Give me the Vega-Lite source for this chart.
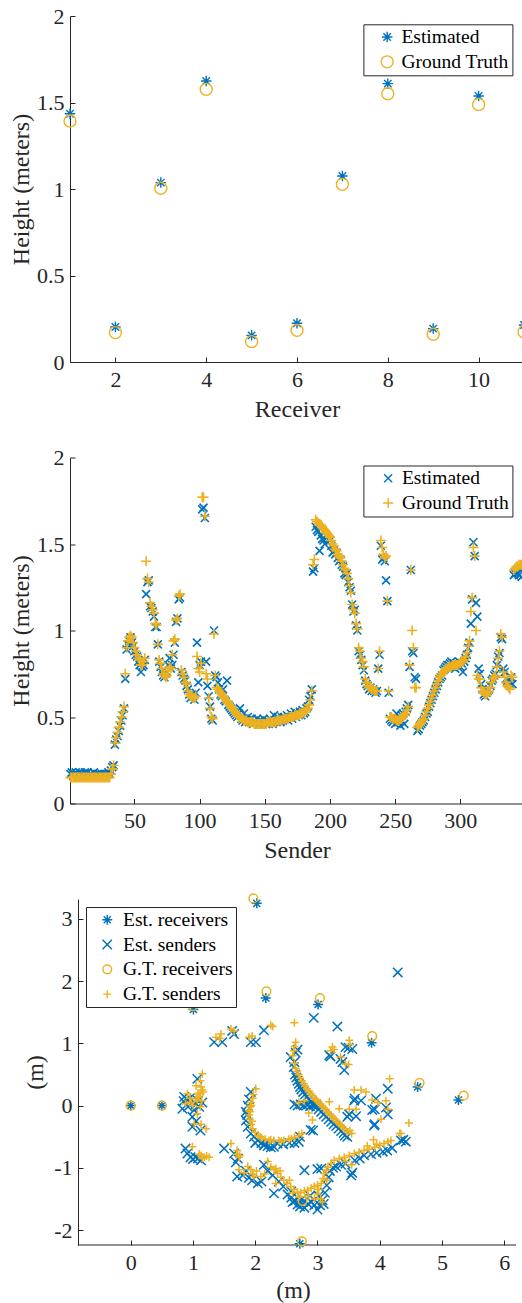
{
"$schema":"https://vega.github.io/schema/vega-lite/v6.json",
"padding":{"left":9,"top":5,"right":0,"bottom":0},
"bounds":"flush",
"spacing":95.5,
"resolve":{"scale":{"color":"independent","shape":"independent","size":"independent"},"legend":{"color":"independent","shape":"independent","size":"independent"}},
"config":{
 "view":{"stroke":null},
 "font":"Liberation Serif",
 "style":{"guide-label":{"font":"Liberation Serif"},"guide-title":{"font":"Liberation Serif"}},
 "axis":{"grid":false,"domainColor":"#262626","tickColor":"#262626","labelColor":"#262626","titleColor":"#262626","labelFont":"Liberation Serif","titleFont":"Liberation Serif","labelFontSize":22,"titleFontSize":24,"titleFontWeight":"normal","tickSize":-5,"domainWidth":1,"tickWidth":1,"labelExpr":"'' + datum.value"},
 "axisX":{"labelPadding":12,"titleBaseline":"alphabetic","titleY":54,"labelFont":"Liberation Serif"},
 "axisY":{"labelPadding":11,"titleBaseline":"alphabetic","titleX":-41.6,"titleAngle":-90,"labelFont":"Liberation Serif"},
 "legend":{"orient":"none","title":null,"strokeColor":"#262626","fillColor":"white","padding":3,"rowPadding":3.8,"labelFont":"Liberation Serif","labelFontSize":19.5,"labelColor":"#000","symbolStrokeWidth":1.4}
},
"vconcat":[
{
 "width":454,"height":346,
 "data":{"values":[
  {"r":1,"e":1.435,"g":1.393},{"r":2,"e":0.202,"g":0.170},{"r":3,"e":1.037,"g":1.004},{"r":4,"e":1.624,"g":1.576},{"r":5,"e":0.154,"g":0.118},{"r":6,"e":0.224,"g":0.183},{"r":7,"e":1.075,"g":1.027},{"r":8,"e":1.609,"g":1.551},{"r":9,"e":0.193,"g":0.160},{"r":10,"e":1.538,"g":1.489},{"r":11,"e":0.214,"g":0.175}
 ]},
 "transform":[{"fold":["e","g"],"as":["k","h"]}],
 "mark":{"type":"point","filled":false,"strokeWidth":1.4,"opacity":1},
 "encoding":{
  "x":{"field":"r","type":"quantitative","scale":{"domain":[1,11],"nice":false,"zero":false},"axis":{"values":[2,4,6,8,10],"title":"Receiver","labelFont":"Liberation Serif"}},
  "y":{"field":"h","type":"quantitative","scale":{"domain":[0,2],"nice":false},"axis":{"values":[0,0.5,1,1.5,2],"title":"Height (meters)","labelFont":"Liberation Serif"}},
  "color":{"field":"k","type":"nominal","scale":{"domain":["e","g"],"range":["#0072BD","#EDB120"]},"legend":{"legendX":293.4,"legendY":8.3,"symbolOffset":11,"labelOffset":4.5,"labelExpr":"datum.label == 'e' ? 'Estimated' : 'Ground Truth'"}},
  "shape":{"field":"k","type":"nominal","scale":{"domain":["e","g"],"range":["M-1,0L1,0M0,-1L0,1M-0.71,-0.71L0.71,0.71M-0.71,0.71L0.71,-0.71","circle"]}},
  "size":{"field":"k","type":"nominal","scale":{"domain":["e","g"],"range":[110,144]}},
  "order":{"field":"k"}
 }
},
{
 "width":454,"height":346,
 "data":{"values":[
{"s":1,"e":0.17,"g":0.15},{"s":2,"e":0.18,"g":0.15},{"s":3,"e":0.16,"g":0.15},{"s":4,"e":0.17,"g":0.15},{"s":5,"e":0.18,"g":0.15},{"s":6,"e":0.17,"g":0.15},{"s":7,"e":0.16,"g":0.15},{"s":8,"e":0.18,"g":0.15},{"s":9,"e":0.17,"g":0.15},{"s":10,"e":0.17,"g":0.15},
{"s":11,"e":0.16,"g":0.15},{"s":12,"e":0.18,"g":0.15},{"s":13,"e":0.17,"g":0.15},{"s":14,"e":0.18,"g":0.15},{"s":15,"e":0.16,"g":0.15},{"s":16,"e":0.17,"g":0.15},{"s":17,"e":0.17,"g":0.15},{"s":18,"e":0.16,"g":0.15},{"s":19,"e":0.18,"g":0.15},{"s":20,"e":0.17,"g":0.15},
{"s":21,"e":0.16,"g":0.15},{"s":22,"e":0.17,"g":0.15},{"s":23,"e":0.17,"g":0.15},{"s":24,"e":0.16,"g":0.15},{"s":25,"e":0.17,"g":0.15},{"s":26,"e":0.16,"g":0.15},{"s":27,"e":0.17,"g":0.15},{"s":28,"e":0.16,"g":0.15},{"s":29,"e":0.17,"g":0.15},{"s":30,"e":0.18,"g":0.15},
{"s":31,"e":0.17,"g":0.15},{"s":32,"e":0.19,"g":0.17},{"s":33,"e":0.21,"g":0.20},{"s":34,"e":0.22,"g":0.22},{"s":35,"e":0.34,"g":0.35},{"s":36,"e":0.37,"g":0.38},{"s":37,"e":0.39,"g":0.41},{"s":38,"e":0.42,"g":0.44},{"s":39,"e":0.45,"g":0.47},{"s":40,"e":0.48,"g":0.50},
{"s":41,"e":0.51,"g":0.53},{"s":42,"e":0.55,"g":0.56},{"s":43,"e":0.72,"g":0.75},{"s":44,"e":0.89,"g":0.90},{"s":45,"e":0.92,"g":0.94},{"s":46,"e":0.94,"g":0.96},{"s":47,"e":0.96,"g":0.97},{"s":48,"e":0.93,"g":0.96},{"s":49,"e":0.91,"g":0.93},{"s":50,"e":0.88,"g":0.90},
{"s":51,"e":0.86,"g":0.88},{"s":52,"e":0.85,"g":0.86},{"s":53,"e":0.82,"g":0.84},{"s":54,"e":0.80,"g":0.83},{"s":55,"e":0.76,"g":0.80},{"s":56,"e":0.79,"g":0.80},{"s":57,"e":0.80,"g":0.82},{"s":58,"e":0.83,"g":0.84},{"s":59,"e":1.21,"g":1.40},{"s":60,"e":1.28,"g":1.30},
{"s":61,"e":1.29,"g":1.28},{"s":62,"e":1.14,"g":1.16},{"s":63,"e":1.13,"g":1.14},{"s":64,"e":1.11,"g":1.12},{"s":65,"e":1.08,"g":1.10},{"s":66,"e":1.02,"g":1.04},{"s":67,"e":1.02,"g":1.03},{"s":68,"e":0.92,"g":0.92},{"s":69,"e":0.82,"g":0.83},{"s":70,"e":0.79,"g":0.81},
{"s":71,"e":0.76,"g":0.78},{"s":72,"e":0.74,"g":0.75},{"s":73,"e":0.73,"g":0.74},{"s":74,"e":0.75,"g":0.73},{"s":75,"e":0.76,"g":0.74},{"s":76,"e":0.80,"g":0.77},{"s":77,"e":0.84,"g":0.79},{"s":78,"e":0.78,"g":0.78},{"s":79,"e":0.80,"g":0.86},{"s":80,"e":0.86,"g":0.94},
{"s":81,"e":0.93,"g":0.95},{"s":82,"e":1.05,"g":1.06},{"s":83,"e":1.07,"g":1.07},{"s":84,"e":1.18,"g":1.20},{"s":85,"e":1.19,"g":1.21},{"s":86,"e":0.76,"g":0.77},{"s":87,"e":0.74,"g":0.75},{"s":88,"e":0.72,"g":0.73},{"s":89,"e":0.71,"g":0.70},{"s":90,"e":0.68,"g":0.69},
{"s":91,"e":0.66,"g":0.65},{"s":92,"e":0.63,"g":0.63},{"s":93,"e":0.61,"g":0.62},{"s":94,"e":0.63,"g":0.62},{"s":95,"e":0.62,"g":0.61},{"s":96,"e":0.60,"g":0.61},{"s":97,"e":0.64,"g":0.62},{"s":98,"e":0.93,"g":0.85},{"s":99,"e":0.70,"g":0.78},{"s":100,"e":0.80,"g":0.76},
{"s":101,"e":0.82,"g":0.81},{"s":102,"e":1.70,"g":1.77},{"s":103,"e":1.71,"g":1.77},{"s":104,"e":1.65,"g":1.66},{"s":105,"e":0.82,"g":0.75},{"s":106,"e":0.68,"g":0.72},{"s":107,"e":0.62,"g":0.61},{"s":108,"e":0.56,"g":0.55},{"s":109,"e":0.49,"g":0.50},{"s":110,"e":0.48,"g":0.49},
{"s":111,"e":1.00,"g":0.98},{"s":112,"e":0.74,"g":0.74},{"s":113,"e":0.73,"g":0.67},{"s":114,"e":0.70,"g":0.66},{"s":115,"e":0.66,"g":0.65},{"s":116,"e":0.63,"g":0.64},{"s":117,"e":0.62,"g":0.63},{"s":118,"e":0.66,"g":0.62},{"s":119,"e":0.60,"g":0.61},{"s":120,"e":0.59,"g":0.60},
{"s":121,"e":0.71,"g":0.59},{"s":122,"e":0.57,"g":0.58},{"s":123,"e":0.56,"g":0.57},{"s":124,"e":0.55,"g":0.56},{"s":125,"e":0.54,"g":0.55},{"s":126,"e":0.53,"g":0.54},{"s":127,"e":0.52,"g":0.53},{"s":128,"e":0.51,"g":0.52},{"s":129,"e":0.50,"g":0.51},{"s":130,"e":0.52,"g":0.50},
{"s":131,"e":0.55,"g":0.50},{"s":132,"e":0.49,"g":0.49},{"s":133,"e":0.48,"g":0.49},{"s":134,"e":0.52,"g":0.48},{"s":135,"e":0.47,"g":0.48},{"s":136,"e":0.48,"g":0.48},{"s":137,"e":0.50,"g":0.47},{"s":138,"e":0.47,"g":0.47},{"s":139,"e":0.49,"g":0.47},{"s":140,"e":0.49,"g":0.47},
{"s":141,"e":0.46,"g":0.47},{"s":142,"e":0.48,"g":0.46},{"s":143,"e":0.47,"g":0.46},{"s":144,"e":0.49,"g":0.46},{"s":145,"e":0.46,"g":0.46},{"s":146,"e":0.48,"g":0.46},{"s":147,"e":0.47,"g":0.46},{"s":148,"e":0.46,"g":0.46},{"s":149,"e":0.49,"g":0.46},{"s":150,"e":0.47,"g":0.46},
{"s":151,"e":0.46,"g":0.46},{"s":152,"e":0.48,"g":0.47},{"s":153,"e":0.46,"g":0.47},{"s":154,"e":0.49,"g":0.47},{"s":155,"e":0.47,"g":0.47},{"s":156,"e":0.46,"g":0.47},{"s":157,"e":0.51,"g":0.47},{"s":158,"e":0.48,"g":0.47},{"s":159,"e":0.47,"g":0.48},{"s":160,"e":0.50,"g":0.48},
{"s":161,"e":0.49,"g":0.48},{"s":162,"e":0.47,"g":0.48},{"s":163,"e":0.50,"g":0.48},{"s":164,"e":0.48,"g":0.49},{"s":165,"e":0.50,"g":0.49},{"s":166,"e":0.49,"g":0.49},{"s":167,"e":0.51,"g":0.49},{"s":168,"e":0.48,"g":0.49},{"s":169,"e":0.50,"g":0.50},{"s":170,"e":0.52,"g":0.50},
{"s":171,"e":0.49,"g":0.50},{"s":172,"e":0.51,"g":0.50},{"s":173,"e":0.53,"g":0.51},{"s":174,"e":0.50,"g":0.51},{"s":175,"e":0.52,"g":0.51},{"s":176,"e":0.51,"g":0.51},{"s":177,"e":0.53,"g":0.52},{"s":178,"e":0.51,"g":0.52},{"s":179,"e":0.54,"g":0.52},{"s":180,"e":0.52,"g":0.53},
{"s":181,"e":0.53,"g":0.53},{"s":182,"e":0.55,"g":0.54},{"s":183,"e":0.56,"g":0.55},{"s":184,"e":0.60,"g":0.57},{"s":185,"e":0.62,"g":0.60},{"s":186,"e":0.66,"g":0.65},{"s":187,"e":1.34,"g":1.38},{"s":188,"e":1.36,"g":1.41},{"s":189,"e":1.60,"g":1.64},{"s":190,"e":1.58,"g":1.63},
{"s":191,"e":1.57,"g":1.62},{"s":192,"e":1.46,"g":1.61},{"s":193,"e":1.55,"g":1.61},{"s":194,"e":1.53,"g":1.60},{"s":195,"e":1.52,"g":1.59},{"s":196,"e":1.50,"g":1.58},{"s":197,"e":1.55,"g":1.57},{"s":198,"e":1.54,"g":1.56},{"s":199,"e":1.53,"g":1.55},{"s":200,"e":1.52,"g":1.54},
{"s":201,"e":1.49,"g":1.52},{"s":202,"e":1.45,"g":1.50},{"s":203,"e":1.46,"g":1.49},{"s":204,"e":1.44,"g":1.47},{"s":205,"e":1.45,"g":1.46},{"s":206,"e":1.42,"g":1.44},{"s":207,"e":1.40,"g":1.43},{"s":208,"e":1.41,"g":1.42},{"s":209,"e":1.38,"g":1.40},{"s":210,"e":1.37,"g":1.38},
{"s":211,"e":1.33,"g":1.36},{"s":212,"e":1.32,"g":1.35},{"s":213,"e":1.33,"g":1.33},{"s":214,"e":1.28,"g":1.30},{"s":215,"e":1.25,"g":1.26},{"s":216,"e":1.23,"g":1.22},{"s":217,"e":1.15,"g":1.15},{"s":218,"e":1.11,"g":1.12},{"s":219,"e":1.12,"g":1.10},{"s":220,"e":1.03,"g":1.04},
{"s":221,"e":1.00,"g":1.01},{"s":222,"e":0.88,"g":0.90},{"s":223,"e":0.86,"g":0.88},{"s":224,"e":0.83,"g":0.84},{"s":225,"e":0.80,"g":0.82},{"s":226,"e":0.77,"g":0.79},{"s":227,"e":0.71,"g":0.72},{"s":228,"e":0.69,"g":0.70},{"s":229,"e":0.68,"g":0.68},{"s":230,"e":0.66,"g":0.67},
{"s":231,"e":0.67,"g":0.67},{"s":232,"e":0.65,"g":0.66},{"s":233,"e":0.66,"g":0.66},{"s":234,"e":0.65,"g":0.65},{"s":235,"e":0.64,"g":0.65},{"s":236,"e":0.65,"g":0.65},{"s":237,"e":0.78,"g":0.78},{"s":238,"e":0.86,"g":0.88},{"s":239,"e":1.49,"g":1.52},{"s":240,"e":1.41,"g":1.48},
{"s":241,"e":1.42,"g":1.44},{"s":242,"e":1.40,"g":1.42},{"s":243,"e":1.29,"g":1.43},{"s":244,"e":1.17,"g":1.17},{"s":245,"e":0.64,"g":0.65},{"s":246,"e":0.49,"g":0.50},{"s":247,"e":0.48,"g":0.50},{"s":248,"e":0.47,"g":0.49},{"s":249,"e":0.50,"g":0.49},{"s":250,"e":0.46,"g":0.49},
{"s":251,"e":0.52,"g":0.48},{"s":252,"e":0.47,"g":0.48},{"s":253,"e":0.50,"g":0.48},{"s":254,"e":0.45,"g":0.49},{"s":255,"e":0.51,"g":0.49},{"s":256,"e":0.52,"g":0.50},{"s":257,"e":0.46,"g":0.51},{"s":258,"e":0.53,"g":0.52},{"s":259,"e":0.55,"g":0.54},{"s":260,"e":0.57,"g":0.56},
{"s":261,"e":0.79,"g":0.80},{"s":262,"e":1.35,"g":1.35},{"s":263,"e":0.88,"g":1.00},{"s":264,"e":0.87,"g":0.90},{"s":265,"e":0.73,"g":0.67},{"s":266,"e":0.72,"g":0.67},{"s":267,"e":0.42,"g":0.44},{"s":268,"e":0.43,"g":0.45},{"s":269,"e":0.45,"g":0.46},{"s":270,"e":0.46,"g":0.47},
{"s":271,"e":0.47,"g":0.48},{"s":272,"e":0.48,"g":0.49},{"s":273,"e":0.50,"g":0.51},{"s":274,"e":0.52,"g":0.53},{"s":275,"e":0.53,"g":0.55},{"s":276,"e":0.56,"g":0.57},{"s":277,"e":0.58,"g":0.59},{"s":278,"e":0.60,"g":0.61},{"s":279,"e":0.62,"g":0.63},{"s":280,"e":0.64,"g":0.65},
{"s":281,"e":0.66,"g":0.67},{"s":282,"e":0.68,"g":0.69},{"s":283,"e":0.70,"g":0.71},{"s":284,"e":0.72,"g":0.73},{"s":285,"e":0.73,"g":0.74},{"s":286,"e":0.74,"g":0.75},{"s":287,"e":0.77,"g":0.76},{"s":288,"e":0.78,"g":0.77},{"s":289,"e":0.79,"g":0.78},{"s":290,"e":0.80,"g":0.78},
{"s":291,"e":0.80,"g":0.79},{"s":292,"e":0.81,"g":0.79},{"s":293,"e":0.82,"g":0.79},{"s":294,"e":0.79,"g":0.80},{"s":295,"e":0.81,"g":0.80},{"s":296,"e":0.78,"g":0.80},{"s":297,"e":0.81,"g":0.80},{"s":298,"e":0.80,"g":0.80},{"s":299,"e":0.82,"g":0.81},{"s":300,"e":0.79,"g":0.81},
{"s":301,"e":0.81,"g":0.82},{"s":302,"e":0.76,"g":0.82},{"s":303,"e":0.82,"g":0.83},{"s":304,"e":0.84,"g":0.85},{"s":305,"e":0.86,"g":0.87},{"s":306,"e":0.90,"g":0.91},{"s":307,"e":0.93,"g":0.94},{"s":308,"e":1.04,"g":1.11},{"s":309,"e":1.18,"g":1.19},{"s":310,"e":1.51,"g":1.48},
{"s":311,"e":1.43,"g":1.43},{"s":312,"e":1.16,"g":1.00},{"s":313,"e":1.08,"g":0.74},{"s":314,"e":0.78,"g":0.72},{"s":315,"e":0.75,"g":0.72},{"s":316,"e":0.69,"g":0.67},{"s":317,"e":0.66,"g":0.65},{"s":318,"e":0.63,"g":0.64},{"s":319,"e":0.62,"g":0.63},{"s":320,"e":0.64,"g":0.63},
{"s":321,"e":0.65,"g":0.64},{"s":322,"e":0.66,"g":0.65},{"s":323,"e":0.68,"g":0.67},{"s":324,"e":0.71,"g":0.70},{"s":325,"e":0.72,"g":0.72},{"s":326,"e":0.74,"g":0.73},{"s":327,"e":0.75,"g":0.74},{"s":328,"e":0.80,"g":0.79},{"s":329,"e":0.85,"g":0.84},{"s":330,"e":0.87,"g":0.88},
{"s":331,"e":0.96,"g":0.98},{"s":332,"e":0.95,"g":0.96},{"s":333,"e":0.78,"g":0.76},{"s":334,"e":0.76,"g":0.73},{"s":335,"e":0.72,"g":0.70},{"s":336,"e":0.71,"g":0.68},{"s":337,"e":0.70,"g":0.67},{"s":338,"e":0.69,"g":0.66},{"s":339,"e":0.73,"g":0.74},{"s":340,"e":0.69,"g":0.73},
{"s":341,"e":1.32,"g":1.35},{"s":342,"e":1.33,"g":1.36},{"s":343,"e":1.34,"g":1.37},{"s":344,"e":1.33,"g":1.37},{"s":345,"e":1.32,"g":1.38},{"s":346,"e":1.35,"g":1.38},{"s":347,"e":1.31,"g":1.38},{"s":348,"e":1.36,"g":1.39}
 ]},
 "transform":[{"fold":["e","g"],"as":["k","h"]}],
 "mark":{"type":"point","filled":false,"strokeWidth":1.6,"opacity":1},
 "encoding":{
  "x":{"field":"s","type":"quantitative","scale":{"domain":[0.6,348.8],"nice":false,"zero":false},"axis":{"values":[50,100,150,200,250,300],"title":"Sender","labelFont":"Liberation Serif"}},
  "y":{"field":"h","type":"quantitative","scale":{"domain":[0,2],"nice":false},"axis":{"values":[0,0.5,1,1.5,2],"title":"Height (meters)","labelFont":"Liberation Serif"}},
  "color":{"field":"k","type":"nominal","scale":{"domain":["e","g"],"range":["#0072BD","#EDB120"]},"legend":{"legendX":293.4,"legendY":8,"symbolOffset":12,"labelOffset":4,"labelExpr":"datum.label == 'e' ? 'Estimated' : 'Ground Truth'"}},
  "shape":{"field":"k","type":"nominal","scale":{"domain":["e","g"],"range":["M-1,-1L1,1M-1,1L1,-1","M-1,0L1,0M0,-1L0,1"]}},
  "size":{"field":"k","type":"nominal","scale":{"domain":["e","g"],"range":[64,100]}},
  "order":{"field":"k"}
 }
},
{
 "width":446,"height":346,
 "layer":[
 {
  "data":{"values":[{"a":1}]},
  "mark":{"type":"rule","color":"#262626","strokeWidth":1},
  "encoding":{"x":{"datum":-0.85,"type":"quantitative"},"x2":{"datum":6.19},"y":{"datum":-2.24,"type":"quantitative"}}
 },
 {
 "data":{"values":[
{"t":"ER","x":0,"y":0},{"t":"ER","x":0.5,"y":0},{"t":"ER","x":1.007,"y":1.545},{"t":"ER","x":2.025,"y":3.25},{"t":"ER","x":2.17,"y":1.73},{"t":"ER","x":3.01,"y":1.626},{"t":"ER","x":3.87,"y":1.01},{"t":"ER","x":4.61,"y":0.30},{"t":"ER","x":5.265,"y":0.09},{"t":"ER","x":2.716,"y":-2.22},{"t":"ER","x":2.72,"y":-1.58},
{"t":"ES","x":0.83,"y":-0.05},{"t":"ES","x":0.86,"y":0.14},{"t":"ES","x":0.85,"y":0.07},{"t":"ES","x":0.90,"y":0.10},{"t":"ES","x":0.95,"y":0.12},{"t":"ES","x":0.99,"y":-0.18},{"t":"ES","x":0.99,"y":-0.34},{"t":"ES","x":1.02,"y":-0.07},{"t":"ES","x":1.07,"y":0.43},{"t":"ES","x":1.08,"y":0.08},{"t":"ES","x":1.10,"y":-0.02},{"t":"ES","x":1.12,"y":-0.40},{"t":"ES","x":1.05,"y":0.02},{"t":"ES","x":1.15,"y":0.05},{"t":"ES","x":0.92,"y":-0.02},{"t":"ES","x":1.05,"y":-0.25},
{"t":"ES","x":0.88,"y":-0.69},{"t":"ES","x":0.91,"y":-0.77},{"t":"ES","x":0.96,"y":-0.83},{"t":"ES","x":1.04,"y":-0.83},{"t":"ES","x":1.13,"y":-0.88},{"t":"ES","x":1.00,"y":-0.86},{"t":"ES","x":1.08,"y":-0.85},
{"t":"ES","x":1.50,"y":-0.69},{"t":"ES","x":1.66,"y":-0.77},{"t":"ES","x":1.69,"y":-0.91},{"t":"ES","x":1.72,"y":-0.85},
{"t":"ES","x":1.34,"y":1.02},{"t":"ES","x":1.47,"y":1.02},{"t":"ES","x":1.66,"y":1.15},{"t":"ES","x":1.63,"y":1.20},{"t":"ES","x":1.93,"y":1.02},{"t":"ES","x":2.01,"y":1.02},{"t":"ES","x":2.14,"y":1.21},{"t":"ES","x":2.94,"y":1.41},{"t":"ES","x":3.32,"y":1.27},{"t":"ES","x":4.29,"y":2.14},
{"t":"ES","x":1.71,"y":-1.14},{"t":"ES","x":1.90,"y":-1.16},{"t":"ES","x":2.04,"y":-1.25},{"t":"ES","x":2.14,"y":-0.95},{"t":"ES","x":2.30,"y":-1.41},{"t":"ES","x":1.80,"y":-1.12},{"t":"ES","x":1.95,"y":-1.20},{"t":"ES","x":2.10,"y":-1.22},{"t":"ES","x":1.85,"y":-1.05},
{"t":"ES","x":1.93,"y":0.22},{"t":"ES","x":1.90,"y":0.10},{"t":"ES","x":1.88,"y":0.0},{"t":"ES","x":1.85,"y":-0.10},{"t":"ES","x":1.85,"y":-0.24},{"t":"ES","x":1.88,"y":-0.34},{"t":"ES","x":1.93,"y":-0.45},{"t":"ES","x":1.98,"y":-0.50},{"t":"ES","x":2.04,"y":-0.56},{"t":"ES","x":2.10,"y":-0.60},{"t":"ES","x":2.14,"y":-0.64},{"t":"ES","x":2.20,"y":-0.65},{"t":"ES","x":2.25,"y":-0.67},{"t":"ES","x":2.30,"y":-0.66},{"t":"ES","x":2.36,"y":-0.61},{"t":"ES","x":2.45,"y":-0.62},{"t":"ES","x":2.55,"y":-0.60},{"t":"ES","x":2.63,"y":-0.60},{"t":"ES","x":2.70,"y":-0.58},{"t":"ES","x":2.00,"y":-0.60},{"t":"ES","x":1.87,"y":-0.15},{"t":"ES","x":2.15,"y":-0.62},{"t":"ES","x":2.72,"y":-0.50},
{"t":"ES","x":2.68,"y":0.90},{"t":"ES","x":2.65,"y":0.85},{"t":"ES","x":2.57,"y":0.78},{"t":"ES","x":2.63,"y":0.70},{"t":"ES","x":2.62,"y":0.62},{"t":"ES","x":2.64,"y":0.50},{"t":"ES","x":2.66,"y":0.45},{"t":"ES","x":2.68,"y":0.40},{"t":"ES","x":2.70,"y":0.35},{"t":"ES","x":2.72,"y":0.30},{"t":"ES","x":2.74,"y":0.26},{"t":"ES","x":2.77,"y":0.22},{"t":"ES","x":2.80,"y":0.18},{"t":"ES","x":2.83,"y":0.14},{"t":"ES","x":2.86,"y":0.10},{"t":"ES","x":2.90,"y":0.06},{"t":"ES","x":2.94,"y":0.02},{"t":"ES","x":2.98,"y":-0.02},{"t":"ES","x":3.02,"y":-0.06},{"t":"ES","x":3.06,"y":-0.10},{"t":"ES","x":3.10,"y":-0.14},{"t":"ES","x":3.14,"y":-0.18},{"t":"ES","x":3.18,"y":-0.22},{"t":"ES","x":3.22,"y":-0.26},{"t":"ES","x":3.26,"y":-0.30},{"t":"ES","x":3.30,"y":-0.33},{"t":"ES","x":3.34,"y":-0.37},{"t":"ES","x":3.38,"y":-0.41},{"t":"ES","x":3.42,"y":-0.44},{"t":"ES","x":3.48,"y":-0.50},{"t":"ES","x":2.63,"y":0.02},{"t":"ES","x":2.68,"y":0.0},{"t":"ES","x":2.73,"y":0.02},{"t":"ES","x":2.78,"y":0.0},{"t":"ES","x":2.83,"y":0.01},{"t":"ES","x":2.88,"y":-0.01},{"t":"ES","x":2.93,"y":0.0},{"t":"ES","x":2.98,"y":0.02},{"t":"ES","x":2.89,"y":-0.39},{"t":"ES","x":2.93,"y":-0.40},{"t":"ES","x":3.44,"y":-0.48},
{"t":"ES","x":3.19,"y":0.81},{"t":"ES","x":3.21,"y":0.79},{"t":"ES","x":3.37,"y":0.75},{"t":"ES","x":3.40,"y":0.70},{"t":"ES","x":3.43,"y":0.57},{"t":"ES","x":3.45,"y":0.94},{"t":"ES","x":3.56,"y":0.91},{"t":"ES","x":3.50,"y":0.93},
{"t":"ES","x":3.59,"y":0.08},{"t":"ES","x":3.70,"y":0.08},{"t":"ES","x":3.51,"y":-0.14},{"t":"ES","x":3.62,"y":-0.17},{"t":"ES","x":3.48,"y":-0.18},{"t":"ES","x":3.92,"y":-0.06},{"t":"ES","x":3.88,"y":-0.07},{"t":"ES","x":3.94,"y":0.11},{"t":"ES","x":4.10,"y":-0.03},{"t":"ES","x":4.13,"y":-0.14},{"t":"ES","x":4.13,"y":0.27},{"t":"ES","x":3.91,"y":-0.32},{"t":"ES","x":3.92,"y":-0.30},{"t":"ES","x":4.34,"y":-0.56},{"t":"ES","x":4.42,"y":-0.58},{"t":"ES","x":3.60,"y":0.11},
{"t":"ES","x":2.20,"y":-1.05},{"t":"ES","x":2.28,"y":-1.12},{"t":"ES","x":2.38,"y":-1.22},{"t":"ES","x":2.45,"y":-1.30},{"t":"ES","x":2.52,"y":-1.43},{"t":"ES","x":2.58,"y":-1.48},{"t":"ES","x":2.64,"y":-1.53},{"t":"ES","x":2.68,"y":-1.59},{"t":"ES","x":2.72,"y":-1.62},{"t":"ES","x":2.79,"y":-1.64},{"t":"ES","x":2.85,"y":-1.58},{"t":"ES","x":2.90,"y":-1.55},{"t":"ES","x":2.95,"y":-1.60},{"t":"ES","x":3.00,"y":-1.67},{"t":"ES","x":3.04,"y":-1.60},{"t":"ES","x":3.08,"y":-1.52},{"t":"ES","x":3.12,"y":-1.40},{"t":"ES","x":3.15,"y":-1.28},{"t":"ES","x":3.18,"y":-1.15},{"t":"ES","x":3.20,"y":-1.05},{"t":"ES","x":3.25,"y":-1.00},{"t":"ES","x":3.30,"y":-0.98},{"t":"ES","x":3.38,"y":-0.95},{"t":"ES","x":3.45,"y":-0.93},{"t":"ES","x":3.54,"y":-1.12},{"t":"ES","x":3.56,"y":-1.08},{"t":"ES","x":3.60,"y":-0.88},{"t":"ES","x":3.68,"y":-0.85},{"t":"ES","x":3.75,"y":-0.80},{"t":"ES","x":3.86,"y":-0.78},{"t":"ES","x":3.95,"y":-0.76},{"t":"ES","x":4.05,"y":-0.74},{"t":"ES","x":4.12,"y":-0.72},{"t":"ES","x":4.20,"y":-0.68},{"t":"ES","x":4.38,"y":-0.55},{"t":"ES","x":2.79,"y":-1.04},{"t":"ES","x":3.06,"y":-1.01},{"t":"ES","x":2.58,"y":-1.38},{"t":"ES","x":2.75,"y":-1.50},{"t":"ES","x":2.88,"y":-1.45},{"t":"ES","x":3.02,"y":-1.45},{"t":"ES","x":3.10,"y":-1.58},{"t":"ES","x":3.00,"y":-1.02},{"t":"ES","x":2.60,"y":-1.55},
{"t":"GR","x":0,"y":0},{"t":"GR","x":0.5,"y":0},{"t":"GR","x":0.996,"y":1.60},{"t":"GR","x":1.97,"y":3.33},{"t":"GR","x":2.18,"y":1.834},{"t":"GR","x":3.04,"y":1.727},{"t":"GR","x":3.88,"y":1.118},{"t":"GR","x":4.64,"y":0.364},{"t":"GR","x":5.35,"y":0.16},{"t":"GR","x":2.75,"y":-2.18},{"t":"GR","x":2.76,"y":-1.53},
{"t":"GS","x":0.91,"y":0.19},{"t":"GS","x":0.88,"y":0.03},{"t":"GS","x":0.95,"y":0.12},{"t":"GS","x":0.97,"y":0.05},{"t":"GS","x":1.0,"y":0.0},{"t":"GS","x":1.05,"y":0.12},{"t":"GS","x":1.07,"y":0.09},{"t":"GS","x":1.08,"y":0.20},{"t":"GS","x":1.10,"y":0.14},{"t":"GS","x":1.12,"y":0.19},{"t":"GS","x":1.12,"y":-0.02},{"t":"GS","x":1.13,"y":0.30},{"t":"GS","x":1.15,"y":0.25},{"t":"GS","x":1.14,"y":0.08},{"t":"GS","x":1.15,"y":0.51},{"t":"GS","x":1.12,"y":0.40},{"t":"GS","x":1.07,"y":-0.13},{"t":"GS","x":1.02,"y":-0.29},{"t":"GS","x":1.21,"y":-0.37},{"t":"GS","x":1.13,"y":-0.30},{"t":"GS","x":1.16,"y":0.22},{"t":"GS","x":1.05,"y":0.32},
{"t":"GS","x":0.99,"y":-0.66},{"t":"GS","x":1.10,"y":-0.78},{"t":"GS","x":1.13,"y":-0.80},{"t":"GS","x":1.18,"y":-0.83},{"t":"GS","x":1.22,"y":-0.81},{"t":"GS","x":1.26,"y":-0.83},{"t":"GS","x":1.15,"y":-0.85},
{"t":"GS","x":1.61,"y":-0.61},{"t":"GS","x":1.71,"y":-0.72},{"t":"GS","x":1.74,"y":-0.83},{"t":"GS","x":1.70,"y":-0.78},{"t":"GS","x":1.75,"y":-0.80},
{"t":"GS","x":1.37,"y":1.10},{"t":"GS","x":1.45,"y":1.15},{"t":"GS","x":1.43,"y":1.08},{"t":"GS","x":1.61,"y":1.23},{"t":"GS","x":1.66,"y":1.20},{"t":"GS","x":1.90,"y":1.10},{"t":"GS","x":1.95,"y":1.12},{"t":"GS","x":2.25,"y":1.29},{"t":"GS","x":2.28,"y":1.27},{"t":"GS","x":2.63,"y":1.33},
{"t":"GS","x":1.74,"y":-1.03},{"t":"GS","x":1.82,"y":-1.08},{"t":"GS","x":1.93,"y":-1.03},{"t":"GS","x":1.98,"y":-1.14},{"t":"GS","x":2.09,"y":-1.14},{"t":"GS","x":2.20,"y":-0.90},{"t":"GS","x":2.33,"y":-1.25},{"t":"GS","x":2.33,"y":-1.01},{"t":"GS","x":1.88,"y":-0.98},{"t":"GS","x":2.02,"y":-1.05},{"t":"GS","x":2.15,"y":-1.10},{"t":"GS","x":1.96,"y":-1.10},
{"t":"GS","x":2.01,"y":0.27},{"t":"GS","x":1.96,"y":0.12},{"t":"GS","x":1.93,"y":0.05},{"t":"GS","x":1.92,"y":-0.02},{"t":"GS","x":1.90,"y":-0.08},{"t":"GS","x":1.90,"y":-0.15},{"t":"GS","x":1.91,"y":-0.22},{"t":"GS","x":1.93,"y":-0.30},{"t":"GS","x":1.96,"y":-0.37},{"t":"GS","x":2.00,"y":-0.43},{"t":"GS","x":2.05,"y":-0.48},{"t":"GS","x":2.10,"y":-0.52},{"t":"GS","x":2.16,"y":-0.54},{"t":"GS","x":2.22,"y":-0.56},{"t":"GS","x":2.30,"y":-0.56},{"t":"GS","x":2.38,"y":-0.56},{"t":"GS","x":2.46,"y":-0.56},{"t":"GS","x":2.54,"y":-0.54},{"t":"GS","x":2.63,"y":-0.51},{"t":"GS","x":2.70,"y":-0.48},{"t":"GS","x":2.75,"y":-0.45},{"t":"GS","x":1.94,"y":0.00},{"t":"GS","x":1.92,"y":-0.10},{"t":"GS","x":1.95,"y":-0.25},{"t":"GS","x":2.08,"y":-0.50},{"t":"GS","x":2.25,"y":-0.55},{"t":"GS","x":2.42,"y":-0.57},{"t":"GS","x":2.58,"y":-0.53},{"t":"GS","x":1.97,"y":0.18},
{"t":"GS","x":2.65,"y":1.02},{"t":"GS","x":2.63,"y":0.95},{"t":"GS","x":2.62,"y":0.88},{"t":"GS","x":2.60,"y":0.80},{"t":"GS","x":2.63,"y":0.68},{"t":"GS","x":2.65,"y":0.60},{"t":"GS","x":2.67,"y":0.55},{"t":"GS","x":2.70,"y":0.50},{"t":"GS","x":2.72,"y":0.44},{"t":"GS","x":2.75,"y":0.40},{"t":"GS","x":2.78,"y":0.35},{"t":"GS","x":2.80,"y":0.31},{"t":"GS","x":2.83,"y":0.27},{"t":"GS","x":2.86,"y":0.23},{"t":"GS","x":2.89,"y":0.19},{"t":"GS","x":2.92,"y":0.16},{"t":"GS","x":2.95,"y":0.12},{"t":"GS","x":2.98,"y":0.09},{"t":"GS","x":3.01,"y":0.06},{"t":"GS","x":3.04,"y":0.03},{"t":"GS","x":3.07,"y":0.0},{"t":"GS","x":3.10,"y":-0.03},{"t":"GS","x":3.13,"y":-0.06},{"t":"GS","x":3.16,"y":-0.10},{"t":"GS","x":3.19,"y":-0.13},{"t":"GS","x":3.22,"y":-0.16},{"t":"GS","x":3.25,"y":-0.19},{"t":"GS","x":3.28,"y":-0.22},{"t":"GS","x":3.31,"y":-0.25},{"t":"GS","x":3.34,"y":-0.28},{"t":"GS","x":3.37,"y":-0.31},{"t":"GS","x":3.40,"y":-0.34},{"t":"GS","x":3.43,"y":-0.37},{"t":"GS","x":3.47,"y":-0.42},{"t":"GS","x":2.79,"y":0.08},{"t":"GS","x":2.70,"y":0.05},{"t":"GS","x":2.92,"y":-0.23},{"t":"GS","x":2.86,"y":-0.12},{"t":"GS","x":3.19,"y":0.06},{"t":"GS","x":3.35,"y":-0.05},
{"t":"GS","x":3.24,"y":0.94},{"t":"GS","x":3.27,"y":0.90},{"t":"GS","x":3.21,"y":0.88},{"t":"GS","x":3.37,"y":0.78},{"t":"GS","x":3.45,"y":0.67},{"t":"GS","x":3.51,"y":1.05},{"t":"GS","x":3.52,"y":0.98},{"t":"GS","x":3.50,"y":0.66},
{"t":"GS","x":3.59,"y":0.25},{"t":"GS","x":3.70,"y":0.25},{"t":"GS","x":3.78,"y":0.22},{"t":"GS","x":3.51,"y":-0.06},{"t":"GS","x":3.62,"y":-0.06},{"t":"GS","x":3.97,"y":0.05},{"t":"GS","x":4.10,"y":0.08},{"t":"GS","x":4.16,"y":0.43},{"t":"GS","x":4.02,"y":-0.22},{"t":"GS","x":4.13,"y":-0.06},{"t":"GS","x":4.47,"y":-0.28},{"t":"GS","x":4.34,"y":-0.45},{"t":"GS","x":3.88,"y":0.09},{"t":"GS","x":3.52,"y":-0.40},{"t":"GS","x":3.55,"y":-0.45},
{"t":"GS","x":2.25,"y":-0.99},{"t":"GS","x":2.30,"y":-1.03},{"t":"GS","x":2.36,"y":-1.09},{"t":"GS","x":2.41,"y":-1.15},{"t":"GS","x":2.46,"y":-1.20},{"t":"GS","x":2.51,"y":-1.25},{"t":"GS","x":2.57,"y":-1.30},{"t":"GS","x":2.62,"y":-1.35},{"t":"GS","x":2.68,"y":-1.39},{"t":"GS","x":2.73,"y":-1.40},{"t":"GS","x":2.79,"y":-1.37},{"t":"GS","x":2.84,"y":-1.36},{"t":"GS","x":2.90,"y":-1.33},{"t":"GS","x":2.95,"y":-1.30},{"t":"GS","x":3.00,"y":-1.28},{"t":"GS","x":3.06,"y":-1.25},{"t":"GS","x":3.09,"y":-1.17},{"t":"GS","x":3.11,"y":-1.09},{"t":"GS","x":3.14,"y":-1.04},{"t":"GS","x":3.17,"y":-0.99},{"t":"GS","x":3.22,"y":-0.93},{"t":"GS","x":3.27,"y":-0.88},{"t":"GS","x":3.35,"y":-0.85},{"t":"GS","x":3.43,"y":-0.83},{"t":"GS","x":3.51,"y":-0.80},{"t":"GS","x":3.59,"y":-0.77},{"t":"GS","x":3.67,"y":-0.75},{"t":"GS","x":3.75,"y":-0.72},{"t":"GS","x":3.83,"y":-0.70},{"t":"GS","x":3.92,"y":-0.67},{"t":"GS","x":4.00,"y":-0.64},{"t":"GS","x":4.07,"y":-0.61},{"t":"GS","x":4.13,"y":-0.58},{"t":"GS","x":4.18,"y":-0.56},{"t":"GS","x":4.32,"y":-0.45},{"t":"GS","x":2.70,"y":-1.47},{"t":"GS","x":2.85,"y":-1.45},{"t":"GS","x":3.00,"y":-1.42},{"t":"GS","x":3.05,"y":-1.50},{"t":"GS","x":2.95,"y":-1.50},{"t":"GS","x":3.02,"y":-1.35},{"t":"GS","x":3.15,"y":-1.20},{"t":"GS","x":2.60,"y":-1.40},{"t":"GS","x":3.45,"y":-0.90},{"t":"GS","x":3.55,"y":-0.95},{"t":"GS","x":3.80,"y":-0.65},{"t":"GS","x":3.90,"y":-0.55},{"t":"GS","x":3.95,"y":-0.62},{"t":"GS","x":2.40,"y":-1.05},{"t":"GS","x":2.55,"y":-1.20},{"t":"GS","x":3.08,"y":-1.55}
 ]},
 "mark":{"type":"point","filled":false,"strokeWidth":1.5,"opacity":1},
 "encoding":{
  "x":{"field":"x","type":"quantitative","scale":{"domain":[-0.976,6.19],"nice":false,"zero":false},"axis":{"values":[0,1,2,3,4,5,6],"title":"(m)","domain":false,"titleY":52.7,"labelFont":"Liberation Serif"}},
  "y":{"field":"y","type":"quantitative","scale":{"domain":[-2.24,3.32],"nice":false,"zero":false},"axis":{"values":[-2,-1,0,1,2,3],"title":"(m)","offset":-8,"titleX":-35.6,"labelFont":"Liberation Serif"}},
  "color":{"field":"t","type":"nominal","scale":{"domain":["ER","ES","GR","GS"],"range":["#0072BD","#0072BD","#EDB120","#EDB120"]},"legend":{"legendX":16,"legendY":8,"symbolOffset":8.5,"labelOffset":6,"labelExpr":"datum.label == 'ER' ? 'Est. receivers' : datum.label == 'ES' ? 'Est. senders' : datum.label == 'GR' ? 'G.T. receivers' : 'G.T. senders'"}},
  "shape":{"field":"t","type":"nominal","scale":{"domain":["ER","ES","GR","GS"],"range":["M-1,0L1,0M0,-1L0,1M-0.71,-0.71L0.71,0.71M-0.71,0.71L0.71,-0.71","M-1,-1L1,1M-1,1L1,-1","circle","M-1,0L1,0M0,-1L0,1"]}},
  "size":{"field":"t","type":"nominal","scale":{"domain":["ER","ES","GR","GS"],"range":[100,64,130,110]}},
  "order":{"field":"t"}
 }
 }
 ]
}
]
}
